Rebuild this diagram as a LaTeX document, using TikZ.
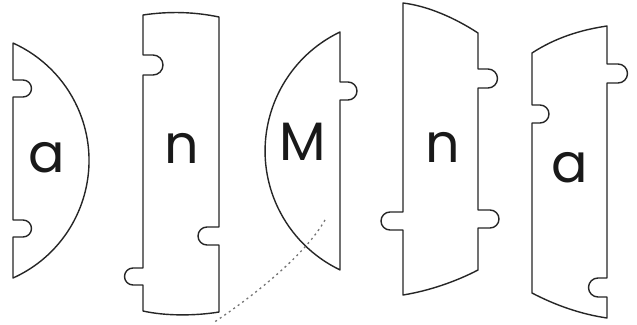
\documentclass[tikz,border=0pt]{standalone}
\usepackage{fontspec}
\setmainfont{Poppins}
\begin{document}
\begin{tikzpicture}[x=1pt,y=-1pt,
  piece/.style={draw=black!85, line width=1.4pt, line join=round},
  letter/.style={anchor=base, inner sep=0pt, font=\fontsize{54}{54}\selectfont, text=black!90},
  trail/.style={draw=black!55, line width=1.3pt, dash pattern=on 2pt off 3.5pt}]
\fill[white] (0,0) rectangle (637,324);
\useasboundingbox (0,0) rectangle (637,324);

% piece 1 : a
\draw[piece] (13,43) -- (13,80) -- (23,80) arc[start angle=-90,end angle=90,radius=8.5] -- (13,97)
  -- (13,220) -- (23,220) arc[start angle=-90,end angle=90,radius=8.5] -- (13,237)
  -- (13,278) arc[start angle=65.8,end angle=-65.8,radius=128.8] -- cycle;
\node[letter] (a1) at (47,172) {a};

% piece 2 : n
\draw[piece] (143,15) .. controls (170,11) and (195,12) .. (219,17) -- (219,227)
  -- (207,227) arc[start angle=-90,end angle=-270,radius=9] -- (219,245)
  -- (219,312) .. controls (195,316) and (165,316) .. (143,311)
  -- (143,285) -- (133,285) arc[start angle=90,end angle=270,radius=8.5] -- (143,268)
  -- (143,75) -- (153,75) arc[start angle=90,end angle=-90,radius=10] -- (143,55) -- cycle;
\node[letter] (n2) at (182,163) {n};

% piece 3 : M
\draw[piece] (340,32) arc[start angle=244.4,end angle=115.6,radius=131.9]
  -- (340,100) -- (348,100) arc[start angle=90,end angle=-90,radius=9] -- (340,82) -- cycle;
\node[letter] (M3) at (303,160) {M};

% piece 4 : n
\draw[piece] (403,3) .. controls (428,6) and (455,18) .. (478,33) -- (478,69)
  -- (488,69) arc[start angle=-90,end angle=90,radius=9.5] -- (478,88)
  -- (478,210) -- (490,210) arc[start angle=-90,end angle=90,radius=9] -- (478,228)
  -- (478,270) .. controls (455,282) and (428,291) .. (403,295)
  -- (403,230) -- (390,230) arc[start angle=90,end angle=270,radius=9] -- (403,212) -- cycle;
\node[letter] (n4) at (443,162) {n};

% piece 5 : a
\draw[piece] (532,53) .. controls (555,38) and (580,30) .. (607,26) -- (607,64)
  -- (618,64) arc[start angle=-90,end angle=90,radius=9.5] -- (607,83)
  -- (607,278) -- (598,278) arc[start angle=-90,end angle=-270,radius=9.5] -- (607,297)
  -- (607,318) .. controls (580,314) and (555,305) .. (532,293)
  -- (532,123) -- (540,123) arc[start angle=90,end angle=-90,radius=9] -- (532,105) -- cycle;
\node[letter] (a5) at (570,182) {a};

% dotted trail
\coordinate (t1) at (325,220);
\coordinate (t2) at (213,323);
\draw[trail] (t1) .. controls (305,255) and (255,295) .. (t2);
\end{tikzpicture}
\end{document}
